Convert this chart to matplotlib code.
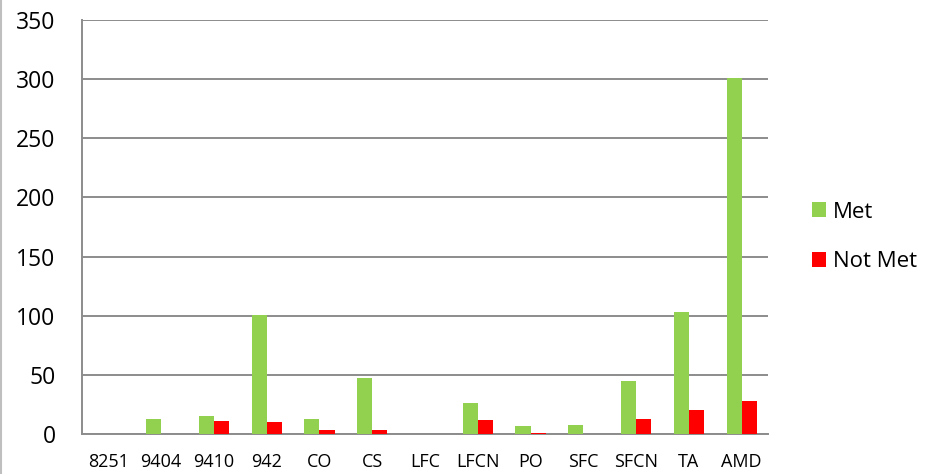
import matplotlib.pyplot as plt
import numpy as np

categorias = ["8251", "9404", "9410", "942", "CO", "CS", "LFC", "LFCN", "PO", "SFC", "SFCN", "TA", "AMD"]
met = [0, 13, 15, 101, 13, 47, 0, 26, 7, 8, 45, 103, 301]
not_met = [0, 0, 11, 10, 3, 3, 0, 12, 1, 0, 13, 20, 28]

plt.rcParams['font.family'] = ['Open Sans', 'DejaVu Sans']

fig = plt.figure(figsize=(9.42, 4.74), dpi=100)
ax = fig.add_axes([82/942, 40/474, 686/942, 414/474])

x = np.arange(len(categorias))
w = 0.285
ax.bar(x - w/2, met, w, color='#92d050', label='Met', zorder=3)
ax.bar(x + w/2, not_met, w, color='#ff0000', label='Not Met', zorder=3)

ax.set_xlim(-0.5, len(categorias) - 0.5)
ax.set_ylim(0, 350)
ax.set_yticks(np.arange(0, 351, 50))
ax.set_xticks(x)
ax.set_xticklabels(categorias, fontsize=13)
ax.tick_params(axis='y', labelsize=16.5, length=0, pad=19)
ax.tick_params(axis='x', length=0, pad=14)
ax.grid(axis='y', color='#8c8c8c', linewidth=1.4, zorder=0)
for s in ['top', 'right']:
    ax.spines[s].set_visible(False)
for s in ['left', 'bottom']:
    ax.spines[s].set_color('#8c8c8c')
    ax.spines[s].set_linewidth(1.4)

ax.legend(loc='center left', bbox_to_anchor=(792/942, 237/474), bbox_transform=fig.transFigure,
          frameon=False, fontsize=16, handlelength=0.65, handleheight=0.65, handletextpad=0.3,
          labelspacing=1.3)

fig.add_artist(plt.Line2D([1/942, 1/942], [0, 1], color='#bfbfbf', linewidth=1.5, transform=fig.transFigure))

plt.savefig("out.png", dpi=100)
